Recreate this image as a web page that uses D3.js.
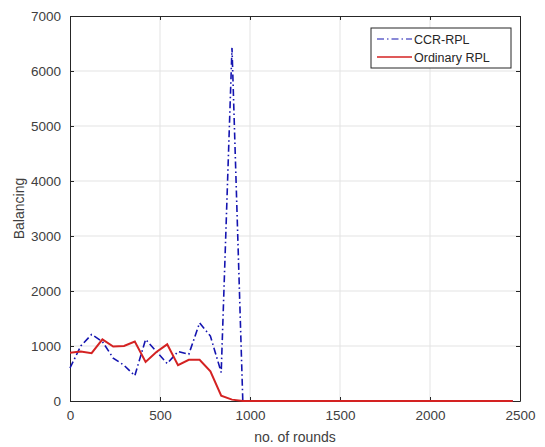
<!DOCTYPE html>
<html>
<head>
<meta charset="utf-8">
<script src="https://cdn.jsdelivr.net/npm/d3@7/dist/d3.min.js"></script>
<style>
  body { margin: 0; background: #fff; }
  svg { display: block; font-family: "Liberation Sans", Arial, sans-serif; }
</style>
</head>
<body>
<svg id="chart" width="545" height="447"></svg>
<script>
// rounds sampled every 60
var rounds = d3.range(0, 2461, 60);
var ccrRpl = [600, 1000, 1210, 1080, 780, 650, 460, 1120, 900, 680, 900, 850, 1420, 1180, 520, 6420, 0];
var ordinaryRpl = [878, 900, 870, 1120, 990, 1000, 1080, 710, 890, 1030, 650, 750, 750, 540, 95, 25, 0];
while (ccrRpl.length < rounds.length) ccrRpl.push(0);
while (ordinaryRpl.length < rounds.length) ordinaryRpl.push(0);

var xTicks = [0, 500, 1000, 1500, 2000, 2500];
var yTicks = [0, 1000, 2000, 3000, 4000, 5000, 6000, 7000];
var seriesNames = ['CCR-RPL', 'Ordinary RPL'];

var L = 70, R = 520, T = 16, B = 401;
var svg = d3.select('#chart');

var x = d3.scaleLinear().domain([0, 2500]).range([L, R]);
var y = d3.scaleLinear().domain([0, 7000]).range([B, T]);

// grid
svg.append('g').selectAll('line').data(xTicks.slice(1, -1)).enter().append('line')
   .attr('x1', function(d){return x(d);}).attr('x2', function(d){return x(d);})
   .attr('y1', T).attr('y2', B)
   .style('stroke', '#e3e3e3').style('stroke-width', 1);
svg.append('g').selectAll('line').data(yTicks.slice(1, -1)).enter().append('line')
   .attr('x1', L).attr('x2', R)
   .attr('y1', function(d){return y(d);}).attr('y2', function(d){return y(d);})
   .style('stroke', '#e3e3e3').style('stroke-width', 1);

// axes (ticks inward)
var fmt = d3.format('d');
svg.append('g').attr('transform', 'translate(0,' + B + ')')
   .call(d3.axisBottom(x).tickValues(xTicks).tickFormat(fmt).tickSizeInner(-4).tickSizeOuter(0).tickPadding(9));
svg.append('g').attr('transform', 'translate(' + L + ',0)')
   .call(d3.axisLeft(y).tickValues(yTicks).tickFormat(fmt).tickSizeInner(-4).tickSizeOuter(0).tickPadding(9));
svg.append('g').attr('transform', 'translate(0,' + T + ')')
   .call(d3.axisTop(x).tickValues(xTicks).tickSizeInner(-4).tickSizeOuter(0).tickFormat(''));
svg.append('g').attr('transform', 'translate(' + R + ',0)')
   .call(d3.axisRight(y).tickValues(yTicks).tickSizeInner(-4).tickSizeOuter(0).tickFormat(''));

svg.selectAll('.domain, .tick line').style('stroke', '#262626');
svg.selectAll('.tick text')
   .style('font-family', '"Liberation Sans", Arial, sans-serif')
   .style('font-size', '13.5px').style('fill', '#404040');

// lines
var line = d3.line()
   .x(function(d, i){return x(rounds[i]);})
   .y(function(d){return y(d);});

svg.append('path').datum(ccrRpl)
   .attr('d', line)
   .style('fill', 'none').style('stroke', '#1414b0').style('stroke-width', 1.6)
   .style('stroke-dasharray', '7,3,1.5,3');

svg.append('path').datum(ordinaryRpl)
   .attr('d', line)
   .style('fill', 'none').style('stroke', '#d42222').style('stroke-width', 2);

// axis titles
svg.append('text')
   .attr('x', (L + R) / 2).attr('y', 442)
   .attr('text-anchor', 'middle')
   .style('font-size', '14px').style('fill', '#404040')
   .text('no. of rounds');
svg.append('text')
   .attr('transform', 'translate(24,' + ((T + B) / 2) + ') rotate(-90)')
   .attr('text-anchor', 'middle')
   .style('font-size', '14px').style('fill', '#404040')
   .text('Balancing');

// legend
var lg = svg.append('g').attr('transform', 'translate(371,28)');
lg.append('rect').attr('width', 140).attr('height', 40)
  .style('fill', '#fff').style('stroke', '#262626').style('stroke-width', 1);
var items = lg.selectAll('.item').data(seriesNames).enter().append('g')
  .attr('transform', function(d, i){return 'translate(0,' + (11 + i * 18) + ')';});
items.append('line')
  .attr('x1', 6).attr('x2', 41).attr('y1', 0).attr('y2', 0)
  .style('stroke', function(d, i){return i === 0 ? '#1414b0' : '#d42222';})
  .style('stroke-width', function(d, i){return i === 0 ? 1.2 : 1.5;})
  .style('stroke-dasharray', function(d, i){return i === 0 ? '7,3,1.5,3' : null;});
items.append('text')
  .attr('x', 43).attr('y', 4.5)
  .style('font-size', '12.5px').style('fill', '#262626')
  .text(function(d){return d;});
</script>
</body>
</html>
